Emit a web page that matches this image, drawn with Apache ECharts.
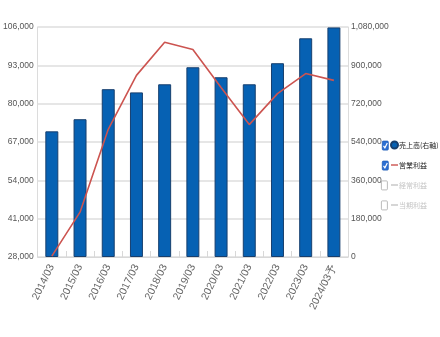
<!DOCTYPE html>
<html>
<head>
<meta charset="utf-8">
<script src="https://cdn.jsdelivr.net/npm/echarts@6/dist/echarts.min.js"></script>
<style>
  html, body { margin: 0; padding: 0; background: #fff; }
  #chart { width: 440px; height: 337px; }
</style>
</head>
<body>
<div id="chart"></div>
<script>
// Fiscal years (the last one is a forecast)
const categories = ['2014/03', '2015/03', '2016/03', '2017/03', '2018/03', '2019/03',
                    '2020/03', '2021/03', '2022/03', '2023/03', '2024/03予'];
// 売上高 — plotted on the right axis
const sales = [590000, 647000, 788000, 773000, 811000, 891000, 844000, 811000, 910000, 1027000, 1078000];
// 営業利益 — plotted on the left axis
const operatingProfit = [28300, 43200, 71300, 89600, 100800, 98400, 85500, 72900, 83400, 90200, 87900];
// Series that exist in the legend but are switched off
const ordinaryProfit = [];
const netProfit = [];

// Axis tick labels
const leftTicks = [28000, 41000, 54000, 67000, 80000, 93000, 106000];
const rightTicks = [0, 180000, 360000, 540000, 720000, 900000, 1080000];

const fmt = v => Number(v).toLocaleString('en-US');
const labelFont = '"Liberation Sans Narrow", "Liberation Sans", Arial, sans-serif';
const cjkFont = '"Noto Sans CJK JP", "Noto Sans", sans-serif';

const chart = echarts.init(document.getElementById('chart'), null, { renderer: 'canvas' });

// Checkbox marks beside each legend row
const legendTop = 140;
const rowStep = 20;
const checked = [true, true, false, false];
const boxes = checked.map((on, i) => {
  const cy = legendTop + 5 + i * rowStep;
  const children = [{
    type: 'rect',
    shape: { x: 0, y: 0, width: 6, height: 9, r: 1 },
    style: on ? { fill: '#2b6fd3', stroke: '#1f5db8', lineWidth: 0.8 }
              : { fill: '#fff', stroke: '#aaa', lineWidth: 0.8 }
  }];
  if (on) {
    children.push({
      type: 'polyline',
      shape: { points: [[1.2, 4.7], [2.6, 6.7], [5, 1.9]] },
      style: { stroke: '#fff', lineWidth: 1.2, fill: null }
    });
  }
  return { type: 'group', left: 381, top: cy - 4.5, children };
});

chart.setOption({
  backgroundColor: '#fff',
  animation: false,
  grid: { left: 32, right: 92, top: 27, bottom: 80, containLabel: false },
  legend: {
    orient: 'vertical',
    left: 390,
    top: legendTop,
    padding: 0,
    itemWidth: 7,
    itemHeight: 10,
    itemGap: 10,
    inactiveColor: '#c4c4c4',
    textStyle: { fontSize: 7, lineHeight: 10, color: '#222', fontFamily: cjkFont, padding: [0, 0, 0, -4] },
    data: [
      { name: '売上高(右軸)', icon: 'circle' },
      { name: '営業利益', icon: 'path://M0,0H10V2H0Z' },
      { name: '経常利益', icon: 'path://M0,0H10V2H0Z' },
      { name: '当期利益', icon: 'path://M0,0H10V2H0Z' }
    ],
    selected: { '経常利益': false, '当期利益': false },
    selectedMode: true
  },
  graphic: boxes,
  xAxis: {
    type: 'category',
    data: categories,
    boundaryGap: true,
    axisLine: { show: true, lineStyle: { color: '#d8d8d8', width: 1 } },
    axisTick: { show: true, inside: true, length: 6, lineStyle: { color: '#d8d8d8' } },
    axisLabel: {
      rotate: 64,
      margin: 8,
      fontSize: 10.5,
      color: '#666',
      fontFamily: '"Liberation Sans", Arial, sans-serif'
    },
    splitLine: { show: false }
  },
  yAxis: [
    {
      type: 'value',
      position: 'left',
      min: leftTicks[0],
      max: leftTicks[leftTicks.length - 1],
      axisLine: { show: true, lineStyle: { color: '#dcdcdc' } },
      axisTick: { show: false },
      splitLine: { show: false },
      axisLabel: {
        customValues: leftTicks,
        formatter: v => fmt(v),
        fontSize: 8.5,
        margin: 4,
        color: '#555',
        fontFamily: labelFont
      }
    },
    {
      type: 'value',
      position: 'right',
      min: rightTicks[0],
      max: rightTicks[rightTicks.length - 1],
      interval: rightTicks[1] - rightTicks[0],
      axisLine: { show: true, lineStyle: { color: '#dcdcdc' } },
      axisTick: { show: false },
      splitLine: { show: true, lineStyle: { color: '#dedede', width: 1.5 } },
      axisLabel: {
        formatter: v => fmt(v),
        fontSize: 8.5,
        margin: 3,
        color: '#555',
        fontFamily: labelFont
      }
    }
  ],
  series: [
    {
      name: '売上高(右軸)',
      type: 'bar',
      yAxisIndex: 1,
      data: sales,
      barWidth: '46%',
      itemStyle: { color: '#0661b3', borderColor: '#173f6e', borderWidth: 1 },
      z: 2
    },
    {
      name: '営業利益',
      type: 'line',
      yAxisIndex: 0,
      data: operatingProfit,
      showSymbol: false,
      symbol: 'none',
      lineStyle: { color: '#cc5450', width: 1.6 },
      itemStyle: { color: '#cc5450' },
      z: 3
    },
    {
      name: '経常利益',
      type: 'line',
      yAxisIndex: 0,
      data: ordinaryProfit,
      showSymbol: false,
      lineStyle: { color: '#7fa34a', width: 1.6 },
      itemStyle: { color: '#7fa34a' }
    },
    {
      name: '当期利益',
      type: 'line',
      yAxisIndex: 0,
      data: netProfit,
      showSymbol: false,
      lineStyle: { color: '#8a6bb0', width: 1.6 },
      itemStyle: { color: '#8a6bb0' }
    }
  ]
});
</script>
</body>
</html>
